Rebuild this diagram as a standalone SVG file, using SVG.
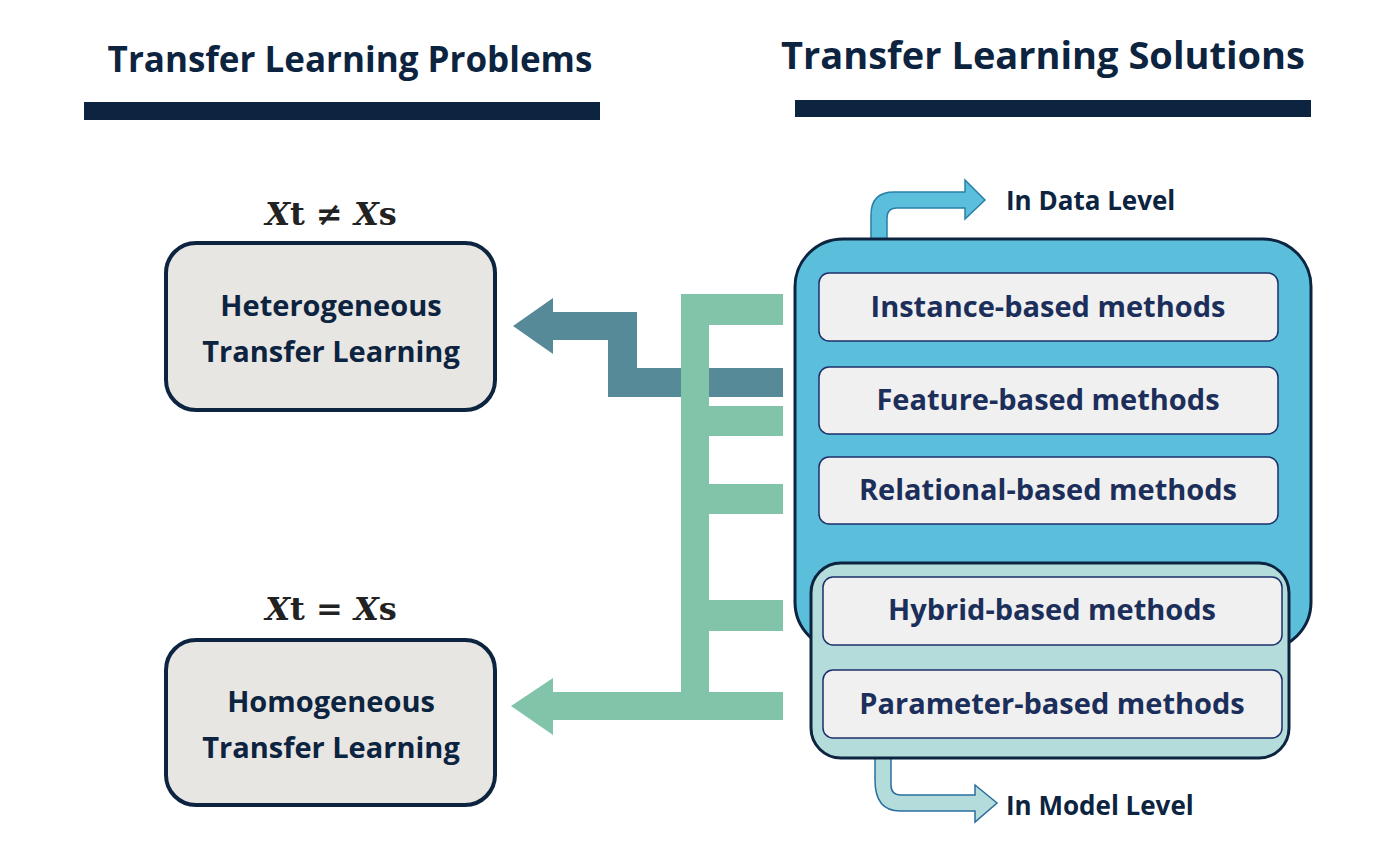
<svg xmlns="http://www.w3.org/2000/svg" width="1400" height="867" viewBox="0 0 1400 867">
<style>
.h{font-family:"Open Sans","Liberation Sans",sans-serif;font-weight:bold;fill:#0d2440}
.m{font-family:"Open Sans","Liberation Sans",sans-serif;font-weight:bold;fill:#1c2f5a;font-size:29px;text-anchor:middle}
.p{fill:#e8e6e3;stroke:#0d2440;stroke-width:4}
.in{fill:#f0f0f1;stroke:#1c2f6a;stroke-width:1.5}
.f{font-family:"DejaVu Serif","Liberation Serif",serif;font-weight:bold;font-size:32px;fill:#222;text-anchor:middle}
</style>
<rect width="1400" height="867" fill="#fff"/>
<g id="headers">
<text class="h" x="350" y="72" font-size="35" text-anchor="middle">Transfer Learning Problems</text>
<rect x="84" y="102" width="516" height="18" fill="#0d2440"/>
<text class="h" x="1043" y="69" font-size="38" text-anchor="middle">Transfer Learning Solutions</text>
<rect x="795" y="100" width="516" height="17" fill="#0d2440"/>
</g>
<g id="hetero">
<text class="f" x="331" y="225"><tspan font-style="italic">X</tspan>t ≠ <tspan font-style="italic">X</tspan>s</text>
<rect class="p" x="166" y="243" width="329" height="167" rx="30"/>
<text class="h" x="331" y="316" font-size="29" text-anchor="middle">Heterogeneous</text>
<text class="h" x="331" y="362" font-size="29" text-anchor="middle">Transfer Learning</text>
</g>
<g id="homo">
<text class="f" x="331" y="620"><tspan font-style="italic">X</tspan>t = <tspan font-style="italic">X</tspan>s</text>
<rect class="p" x="166" y="640" width="329" height="165" rx="30"/>
<text class="h" x="331" y="712" font-size="29" text-anchor="middle">Homogeneous</text>
<text class="h" x="331" y="758" font-size="29" text-anchor="middle">Transfer Learning</text>
</g>
<g id="connectors">
<path d="M871 239 V215 Q871 192 894 192 H965 V180 L985 200 L965 219 V208 H897 Q887 208 887 218 V239 Z" fill="#5bbfdc" stroke="#2a7fa8" stroke-width="1.5"/>
<path d="M875 758 V780 Q875 811 900 811 H975 V822 L997 803 L975 785 V795 H901 Q891 795 891 785 V758 Z" fill="#b3dcdb" stroke="#2a6fa0" stroke-width="1.5"/>
<path d="M783 368 V397 H608 V340 H553 V354 L513 326 L553 298 V312 H637 V368 Z" fill="#578a98"/>
<path d="M681 294 H783 V325 H709 V406 H783 V436 H709 V484 H783 V514 H709 V600 H783 V631 H709 V692 H783 V720 H553 V735 L511 706 L553 678 V692 H681 Z" fill="#82c4aa"/>
<rect x="709" y="368" width="74" height="29" fill="#578a98"/>
</g>
<g id="solutions">
<rect x="795" y="239" width="516" height="411" rx="48" fill="#5bbfdc" stroke="#0d2440" stroke-width="3"/>
<rect x="811" y="563" width="478" height="195" rx="30" fill="#b3dcdb" stroke="#0d2440" stroke-width="3"/>
<rect class="in" x="819" y="273" width="459" height="68" rx="10"/>
<text class="m" x="1048" y="317">Instance-based methods</text>
<rect class="in" x="819" y="367" width="459" height="67" rx="10"/>
<text class="m" x="1048" y="410">Feature-based methods</text>
<rect class="in" x="819" y="457" width="459" height="67" rx="10"/>
<text class="m" x="1048" y="500">Relational-based methods</text>
<rect class="in" x="823" y="577" width="459" height="68" rx="10"/>
<text class="m" x="1052" y="620">Hybrid-based methods</text>
<rect class="in" x="823" y="670" width="459" height="68" rx="10"/>
<text class="m" x="1052" y="714">Parameter-based methods</text>
<text class="h" x="1006" y="210" font-size="26">In Data Level</text>
<text class="h" x="1006" y="815" font-size="26">In Model Level</text>
</g>
</svg>
